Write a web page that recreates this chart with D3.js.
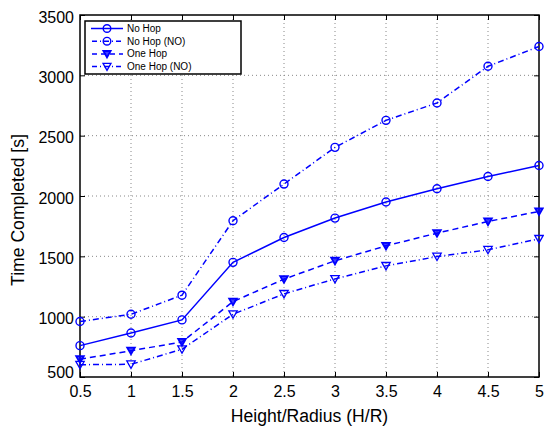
<!DOCTYPE html>
<html>
<head>
<meta charset="utf-8">
<script src="https://cdn.jsdelivr.net/npm/d3@7"></script>
<style>
  html, body { margin: 0; padding: 0; background: #fff; }
  svg { display: block; font-family: "Liberation Sans", Arial, sans-serif; }
</style>
</head>
<body>
<svg id="chart" width="544" height="428"></svg>
<script>
// Height/Radius ratios on the x axis
const ratios = [0.5, 1, 1.5, 2, 2.5, 3, 3.5, 4, 4.5, 5];

// Completion time [s] for each configuration
const noHop     = [760, 865, 973, 1450, 1656, 1817, 1950, 2060, 2162, 2253];
const noHopNO   = [960, 1020, 1178, 1795, 2099, 2403, 2627, 2771, 3075, 3239];
const oneHop    = [647, 718, 790, 1125, 1311, 1463, 1587, 1692, 1789, 1872];
const oneHopNO  = [602, 605, 730, 1020, 1189, 1313, 1421, 1498, 1554, 1645];

const seriesNames = ["No Hop", "No Hop (NO)", "One Hop", "One Hop (NO)"];

// Tick labels
const xTicks = [0.5, 1, 1.5, 2, 2.5, 3, 3.5, 4, 4.5, 5];
const yTicks = [500, 1000, 1500, 2000, 2500, 3000, 3500];

const series = [
  { name: seriesNames[0], values: noHop,    dash: null,      marker: "circle" },
  { name: seriesNames[1], values: noHopNO,  dash: "6,3,1,3", marker: "circle" },
  { name: seriesNames[2], values: oneHop,   dash: "6,4",     marker: "triFilled" },
  { name: seriesNames[3], values: oneHopNO, dash: "6,3,1,3", marker: "triOpen" }
];

const blue = "#0000ff";
const svg = d3.select("#chart");
const plotL = 80, plotR = 539, plotT = 15, plotB = 377;

const x = d3.scaleLinear().domain([0.5, 5]).range([plotL, plotR]);
const y = d3.scaleLinear().domain([500, 3500]).range([plotB, plotT]);

// Dotted grid
const grid = svg.append("g").attr("stroke", "#888").attr("stroke-width", 1)
  .attr("stroke-dasharray", "1,3");
xTicks.slice(1, -1).forEach(t => {
  grid.append("line").attr("x1", x(t)).attr("x2", x(t)).attr("y1", plotT).attr("y2", plotB);
});
yTicks.slice(1, -1).forEach(t => {
  grid.append("line").attr("x1", plotL).attr("x2", plotR).attr("y1", y(t)).attr("y2", y(t));
});

// Axes with inward ticks on all four sides
const axB = svg.append("g").attr("transform", `translate(0,${plotB})`)
  .call(d3.axisBottom(x).tickValues(xTicks).tickSizeInner(-5).tickSizeOuter(0).tickPadding(8)
    .tickFormat(d3.format("")));
const axL = svg.append("g").attr("transform", `translate(${plotL},0)`)
  .call(d3.axisLeft(y).tickValues(yTicks).tickSizeInner(-5).tickSizeOuter(0).tickPadding(6)
    .tickFormat(d3.format("")));
const axT = svg.append("g").attr("transform", `translate(0,${plotT})`)
  .call(d3.axisTop(x).tickValues(xTicks).tickSizeInner(-5).tickSizeOuter(0).tickFormat(""));
const axR = svg.append("g").attr("transform", `translate(${plotR},0)`)
  .call(d3.axisRight(y).tickValues(yTicks).tickSizeInner(-5).tickSizeOuter(0).tickFormat(""));

[axB, axL, axT, axR].forEach(a => {
  a.select(".domain").remove();
  a.selectAll(".tick line").attr("stroke", "#000").attr("stroke-width", 1);
  a.selectAll("text").attr("font-size", 16).attr("fill", "#000")
    .attr("font-family", "'Liberation Sans', Arial, sans-serif");
});
axL.selectAll(".tick text").attr("dy", "0.45em");
axL.selectAll(".tick").filter(d => d === 500).select("text").attr("dy", "0.0em");
axB.selectAll(".tick text").attr("dy", "0.72em");

// Frame
svg.append("rect").attr("x", plotL).attr("y", plotT)
  .attr("width", plotR - plotL).attr("height", plotB - plotT)
  .attr("fill", "none").attr("stroke", "#000").attr("stroke-width", 1.5);

// Axis titles
svg.append("text").attr("x", (plotL + plotR) / 2).attr("y", 422)
  .attr("text-anchor", "middle").attr("font-size", 17.6).text("Height/Radius (H/R)");
svg.append("text").attr("transform", "translate(24,210) rotate(-90)")
  .attr("text-anchor", "middle").attr("font-size", 17.6).text("Time Completed [s]");

// Marker drawing
function drawMarker(g, kind, cx, cy, scale) {
  const s = scale || 1;
  if (kind === "circle") {
    g.append("circle").attr("cx", cx).attr("cy", cy).attr("r", 4 * s)
      .attr("fill", "none").attr("stroke", blue).attr("stroke-width", 1.4);
  } else {
    const h = (kind === "triFilled" ? 3.8 : 4.2) * s;
    const pts = [[cx - h, cy - h * 0.8], [cx + h, cy - h * 0.8], [cx, cy + h * 0.95]];
    g.append("path").attr("d", "M" + pts.join("L") + "Z")
      .attr("fill", kind === "triFilled" ? blue : "none")
      .attr("fill-opacity", kind === "triFilled" ? 0.75 : 1)
      .attr("stroke", blue).attr("stroke-width", kind === "triFilled" ? 1.8 : 1.3)
      .attr("stroke-linejoin", "miter");
  }
}

const line = d3.line().x((d, i) => x(ratios[i])).y(d => y(d));
const plot = svg.append("g");
series.forEach(s => {
  plot.append("path").datum(s.values).attr("d", line)
    .attr("fill", "none").attr("stroke", blue).attr("stroke-width", 1.5)
    .attr("stroke-dasharray", s.dash);
  s.values.forEach((v, i) => drawMarker(plot, s.marker, x(ratios[i]), y(v)));
});

// Legend
const lg = svg.append("g");
lg.append("rect").attr("x", 85).attr("y", 21).attr("width", 156).attr("height", 53)
  .attr("fill", "#fff").attr("stroke", "#000").attr("stroke-width", 1.5);
series.forEach((s, i) => {
  const ly = 28.5 + i * 12.7;
  lg.append("line").attr("x1", 91).attr("x2", 123).attr("y1", ly).attr("y2", ly)
    .attr("stroke", blue).attr("stroke-width", 1.5)
    .attr("stroke-dasharray", s.dash ? (s.dash === "6,4" ? "5,4" : "5,3,1,3") : null)
    .attr("stroke-dashoffset", s.dash ? -1 : 0);
  drawMarker(lg, s.marker, 107, ly, 0.95);
  lg.append("text").attr("x", 127).attr("y", ly).attr("dy", "0.35em")
    .attr("font-size", 10).text(s.name);
});
</script>
</body>
</html>
